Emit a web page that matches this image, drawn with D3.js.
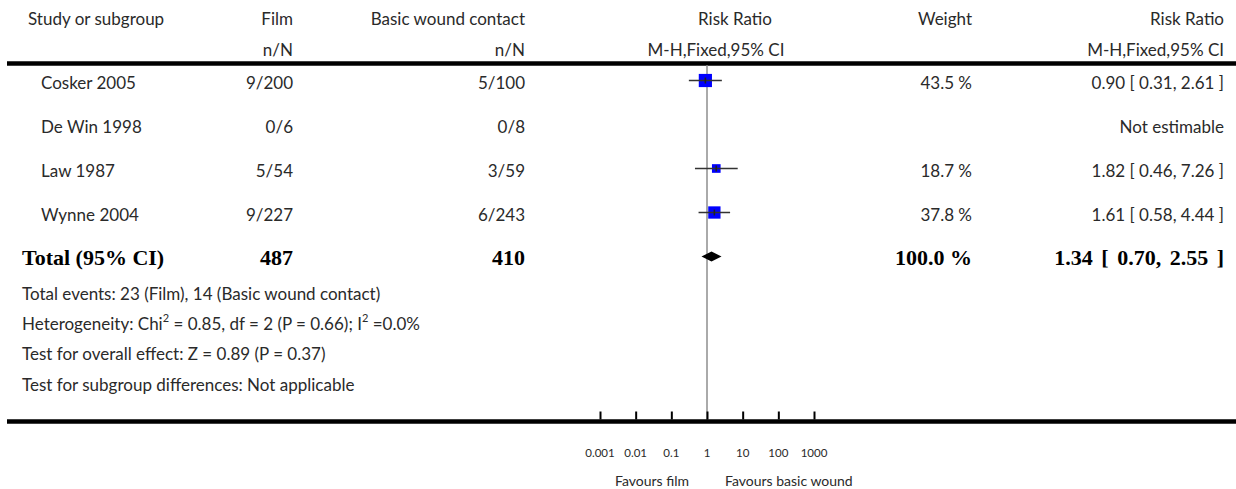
<!DOCTYPE html>
<html><head><meta charset="utf-8">
<script src="https://cdn.jsdelivr.net/npm/d3@7"></script>
<style>
html,body{margin:0;padding:0;background:#fff;}
svg{display:block;}
</style></head>
<body>
<svg id="c" width="1236" height="489"></svg>
<script>
// ---------- data ----------
const studies = ["Cosker 2005", "De Win 1998", "Law 1987", "Wynne 2004"];
const filmNN = ["9/200", "0/6", "5/54", "9/227"];
const basicNN = ["5/100", "0/8", "3/59", "6/243"];
const weights = [43.5, null, 18.7, 37.8];
const rr = [0.90, null, 1.82, 1.61];
const rrLo = [0.31, null, 0.46, 0.58];
const rrHi = [2.61, null, 7.26, 4.44];
const rrText = ["0.90 [ 0.31, 2.61 ]", "Not estimable", "1.82 [ 0.46, 7.26 ]", "1.61 [ 0.58, 4.44 ]"];
const weightText = ["43.5 %", "", "18.7 %", "37.8 %"];
const totalLabel = "Total (95% CI)";
const totalFilm = "487";
const totalBasic = "410";
const totalWeight = "100.0 %";
const totalRR = 1.34, totalLo = 0.70, totalHi = 2.55;
const totalRRText = "1.34 [ 0.70, 2.55 ]";
const tickValues = [0.001, 0.01, 0.1, 1, 10, 100, 1000];
const tickLabels = ["0.001", "0.01", "0.1", "1", "10", "100", "1000"];
const headers1 = ["Study or subgroup", "Film", "Basic wound contact", "Risk Ratio", "Weight", "Risk Ratio"];
const headers2 = ["", "n/N", "n/N", "M-H,Fixed,95% CI", "", "M-H,Fixed,95% CI"];
const favourLeft = "Favours film";
const favourRight = "Favours basic wound";

// ---------- layout ----------
const svg = d3.select("#c");
const sans = "'Lato', 'Open Sans', sans-serif";
const serif = "'Liberation Serif', 'DejaVu Serif', serif";
const txtCol = "#2a2a2a";
const fs = 17;

const colStudy = 28, colStudyRow = 41, colFilm = 293, colBasic = 525, colWeight = 972, colRR = 1224;
const x = d3.scaleLog().domain([0.001, 1000]).range([600, 814]);
const side = d3.scaleSqrt().domain([0, 100]).range([0, 20]);
const rowY = d3.scalePoint().domain(d3.range(studies.length + 1)).range([80.5, 256.5]);
const ruleTop = 63.5, axisY = 421.5;

function t(xp, yp, s, anchor, opts = {}) {
  return svg.append("text").attr("x", xp).attr("y", yp).attr("text-anchor", anchor)
    .attr("dominant-baseline", "central")
    .attr("font-family", opts.family || sans).attr("font-size", opts.size || fs)
    .attr("font-weight", opts.weight || "normal").attr("fill", opts.fill || txtCol).text(s);
}

// headers
const hx1 = [colStudy, colFilm, colBasic, 735, colWeight, colRR];
const hx2 = [colStudy, colFilm, colBasic, 716, colWeight, colRR];
const ha = ["start", "end", "end", "middle", "end", "end"];
headers1.forEach((h, i) => t(hx1[i], 18.5, h, ha[i]));
headers2.forEach((h, i) => { if (h) t(hx2[i], 49, h, ha[i]); });

// header rule
svg.append("line").attr("x1", 7).attr("x2", 1236).attr("y1", ruleTop).attr("y2", ruleTop)
  .attr("stroke", "#000").attr("stroke-width", 4.6);

// reference line at RR=1
svg.append("line").attr("x1", x(1)).attr("x2", x(1)).attr("y1", ruleTop + 2).attr("y2", axisY)
  .attr("stroke", "#aaa").attr("stroke-width", 2);

// study rows
studies.forEach((s, i) => {
  const y = rowY(i) + 2;
  t(colStudyRow, y, s, "start");
  t(colFilm, y, filmNN[i], "end");
  t(colBasic, y, basicNN[i], "end");
  if (weightText[i]) t(colWeight, y, weightText[i], "end");
  t(colRR, y, rrText[i], "end");
});

// markers
const g = svg.append("g");
studies.forEach((s, i) => {
  if (rr[i] == null) return;
  const y = rowY(i), cx = x(rr[i]), w = side(weights[i]);
  g.append("rect").attr("x", cx - w / 2).attr("y", y - w / 2).attr("width", w).attr("height", w).attr("fill", "#0000ff");
  g.append("line").attr("x1", x(rrLo[i])).attr("x2", x(rrHi[i])).attr("y1", y).attr("y2", y)
    .attr("stroke", "#333").attr("stroke-width", 1.7);
  g.append("line").attr("x1", cx).attr("x2", cx).attr("y1", y - 3).attr("y2", y + 3)
    .attr("stroke", "#222").attr("stroke-width", 1.6);
});

// total row
const ty = rowY(studies.length);
const bold = { family: serif, size: 22, weight: "bold", fill: "#000" };
t(22, ty + 1, totalLabel, "start", bold);
t(colFilm, ty + 1, totalFilm, "end", bold);
t(colBasic, ty + 1, totalBasic, "end", bold);
t(colWeight, ty + 1, totalWeight, "end", bold);
t(colRR, ty + 1, totalRRText, "end", Object.assign({}, bold, { size: 22 })).attr("word-spacing", 3);
svg.append("path")
  .attr("d", `M${x(totalLo)},${ty} L${x(totalRR)},${ty - 5} L${x(totalHi)},${ty} L${x(totalRR)},${ty + 5} Z`)
  .attr("fill", "#000");

// footnotes
const fx = 22;
t(fx, 293, "Total events: 23 (Film), 14 (Basic wound contact)", "start");
const het = t(fx, 323, "", "start");
het.append("tspan").text("Heterogeneity: Chi");
het.append("tspan").attr("font-size", 11).attr("dy", -6).text("2");
het.append("tspan").attr("dy", 6).text(" = 0.85, df = 2 (P = 0.66); I");
het.append("tspan").attr("font-size", 11).attr("dy", -6).text("2");
het.append("tspan").attr("dy", 6).text(" =0.0%");
t(fx, 353, "Test for overall effect: Z = 0.89 (P = 0.37)", "start");
t(fx, 384, "Test for subgroup differences: Not applicable", "start");

// axis
svg.append("line").attr("x1", 7).attr("x2", 1236).attr("y1", axisY).attr("y2", axisY)
  .attr("stroke", "#000").attr("stroke-width", 4.6);
const ax = d3.axisTop(x).tickValues(tickValues).tickSize(8).tickFormat(() => "");
const axG = svg.append("g").attr("transform", `translate(0,${axisY - 2})`).call(ax);
axG.select(".domain").remove();
axG.selectAll(".tick line").attr("stroke", "#000").attr("stroke-width", 2);
tickValues.forEach((v, i) => t(x(v), 452, tickLabels[i], "middle", { size: 11.5 }));
t(x(1) - 18, 480, favourLeft, "end", { size: 14 });
t(x(1) + 18, 480, favourRight, "start", { size: 14 });
</script>
</body></html>
